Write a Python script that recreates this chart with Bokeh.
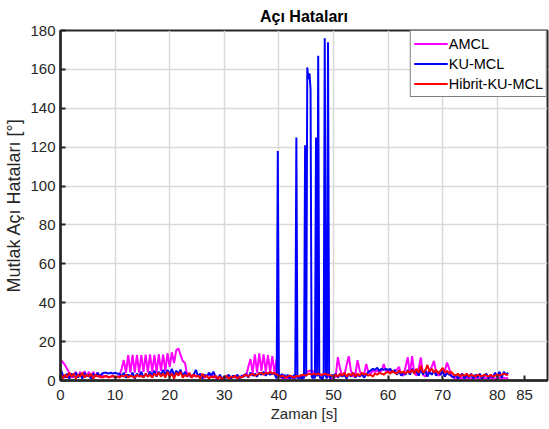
from bokeh.plotting import figure
from bokeh.models import FixedTicker, Range1d, Legend, LegendItem
from bokeh.embed import file_html
from bokeh.resources import INLINE

# time axis (s), shared by AMCL and Hibrit-KU-MCL
t = [
    0.0, 0.4, 0.8, 1.2, 1.6, 2.0, 2.4, 2.8, 3.2, 3.6,
    4.0, 4.4, 4.8, 5.2, 5.6, 6.0, 6.4, 6.8, 7.2, 7.6,
    8.0, 8.4, 8.8, 9.2, 9.6, 10.0, 10.4, 10.8, 11.2, 11.6,
    12.0, 12.4, 12.8, 13.2, 13.6, 14.0, 14.4, 14.8, 15.2, 15.6,
    16.0, 16.4, 16.8, 17.2, 17.6, 18.0, 18.4, 18.8, 19.2, 19.6,
    20.0, 20.4, 20.8, 21.2, 21.6, 22.0, 22.4, 22.8, 23.2, 23.6,
    24.0, 24.4, 24.8, 25.2, 25.6, 26.0, 26.4, 26.8, 27.2, 27.6,
    28.0, 28.4, 28.8, 29.2, 29.6, 30.0, 30.4, 30.8, 31.2, 31.6,
    32.0, 32.4, 32.8, 33.2, 33.6, 34.0, 34.4, 34.8, 35.2, 35.6,
    36.0, 36.4, 36.8, 37.2, 37.6, 38.0, 38.4, 38.8, 39.2, 39.6,
    40.0, 40.4, 40.8, 41.2, 41.6, 42.0, 42.4, 42.8, 43.2, 43.6,
    44.0, 44.4, 44.8, 45.2, 45.6, 46.0, 46.4, 46.8, 47.2, 47.6,
    48.0, 48.4, 48.8, 49.2, 49.6, 50.0, 50.4, 50.8, 51.2, 51.6,
    52.0, 52.4, 52.8, 53.2, 53.6, 54.0, 54.4, 54.8, 55.2, 55.6,
    56.0, 56.4, 56.8, 57.2, 57.6, 58.0, 58.4, 58.8, 59.2, 59.6,
    60.0, 60.4, 60.8, 61.2, 61.6, 62.0, 62.4, 62.8, 63.2, 63.6,
    64.0, 64.4, 64.8, 65.2, 65.6, 66.0, 66.4, 66.8, 67.2, 67.6,
    68.0, 68.4, 68.8, 69.2, 69.6, 70.0, 70.4, 70.8, 71.2, 71.6,
    72.0, 72.4, 72.8, 73.2, 73.6, 74.0, 74.4, 74.8, 75.2, 75.6,
    76.0, 76.4, 76.8, 77.2, 77.6, 78.0, 78.4, 78.8, 79.2, 79.6,
    80.0, 80.4, 80.8, 81.2, 81.6, 82.0,
]

amcl = [
    11, 9.5, 8, 6, 4, 1.5, 2, 4.5, 1.5, 4.5,
    1.5, 4.8, 2, 4.5, 1.5, 4.5, 2, 4.2, 1.5, 3,
    2, 2, 1.8, 2, 2, 1.8, 2, 2.5, 6, 10.5,
    4, 13, 4, 13.2, 4, 13.2, 4, 13, 4.5, 13.3,
    4, 13.5, 4.5, 13.2, 4, 13.5, 5, 13.3, 5, 14,
    7, 14.5, 9, 15.5, 16.5, 13, 10, 9, 3, 2.5,
    2.5, 3, 2, 2.5, 3, 2, 1.5, 2.5, 3, 2,
    2.5, 1.5, 0.5, 0, 1, 2, 1.5, 2.5, 1.5, 2,
    2, 2.5, 1.5, 2, 3, 2.5, 7, 11, 4, 13.5,
    4, 14, 5, 13.5, 4.5, 13, 4, 12.5, 4, 11,
    3, 1.5, 1, 1.5, 1, 1.5, 1.5, 1, 2, 1.5,
    2, 2.5, 3, 4.5, 5, 5, 4.5, 3.5, 3, 3,
    3, 3, 2.5, 2, 0.5, 1, 2, 12, 6, 2.5,
    3, 8, 12.5, 5, 2, 3, 10.5, 5, 2.5, 3,
    8.5, 4, 3.5, 5, 4.5, 5, 4.5, 5, 8.5, 5,
    4.5, 5, 4.5, 5, 5.5, 7, 3, 2.5, 7, 12,
    3, 12.5, 4, 2.5, 6, 11.8, 3, 2, 4, 5,
    7, 10, 4, 2.5, 3, 4, 5, 9.2, 6, 2,
    1.5, 1, 1.5, 1, 1.5, 1, 1.5, 1, 1, 1.5,
    1, 1.5, 1, 1, 1.5, 1, 1, 1.5, 1, 1,
    1, 1.5, 1, 1.5, 1, 1.5,
]

hibrit = [
    3.5, 1, 3, 1.5, 4, 2, 3.5, 1, 3, 2,
    4, 1.5, 3, 2, 3.5, 1, 3, 2, 2.5, 1.5,
    2, 2.5, 1.5, 2, 2.5, 1.5, 2, 1.5, 2.5, 2,
    3, 1.5, 2.5, 2, 1.5, 3, 2, 2.5, 1.5, 3.5,
    2, 3, 1.5, 3.5, 2.5, 4, 2, 3.5, 1.5, 4.5,
    2, 3.5, 1, 4, 2.5, 4.5, 1.5, 3, 2, 4,
    1.5, 3, 2, 2.5, 1, 3.5, 1.5, 2.5, 1, 2,
    1.5, 2.5, 1, 2, 0.5, 1.5, 2.5, 1, 2, 1.5,
    2.5, 1, 2, 1.5, 2.5, 3, 2, 3, 3.5, 2.5,
    3, 3.5, 4, 3, 4, 3.5, 4.5, 3.5, 4, 3,
    2.5, 2, 2.5, 1.5, 2, 2.5, 2, 1.5, 2.5, 2,
    2.5, 3, 2.5, 3, 3.5, 3, 3.5, 3, 3.5, 3,
    3, 3.5, 3, 3, 2.5, 2, 3, 2, 3.5, 2.5,
    4, 2, 3.5, 2.5, 4, 2, 3.5, 2.5, 4, 3,
    3.5, 2.5, 3, 2, 3.5, 3, 4, 3.5, 3, 4,
    4.5, 3.5, 5, 4, 3.5, 5, 4, 4.5, 3.5, 5,
    4, 5.5, 3.5, 6, 4, 7.5, 4, 5, 8, 4.5,
    6, 4, 5.5, 3.5, 5, 6.5, 4, 5, 3.5, 4.5,
    3, 2.5, 3.5, 2, 3, 2.5, 3.5, 2, 3, 2.5,
    2, 3, 2.5, 2, 3, 2.5, 2, 3, 2, 2.5,
    3, 2.5, 3, 3.5, 3, 3,
]

# KU-MCL uses a finer time step around the spikes (39.2 s - 50.0 s)
t_fine = [
    39.2, 39.4, 39.6, 39.8, 40.0, 40.2, 40.4, 40.6, 40.8, 41.0,
    41.2, 41.4, 41.6, 41.8, 42.0, 42.2, 42.4, 42.6, 42.8, 43.0,
    43.2, 43.4, 43.6, 43.8, 44.0, 44.2, 44.4, 44.6, 44.8, 45.0,
    45.2, 45.4, 45.6, 45.8, 46.0, 46.2, 46.4, 46.6, 46.8, 47.0,
    47.2, 47.4, 47.6, 47.8, 48.0, 48.2, 48.4, 48.6, 48.8, 49.0,
    49.2, 49.4, 49.6, 49.8, 50.0,
]
t_ku = t[:98] + t_fine + t[126:]

ku = [
    6, 3, 1.5, 3.5, 1, 3.5, 2, 4, 1.5, 3.5,
    1, 4, 2, 3, 1, 3.5, 2, 4, 2, 3.5,
    4, 4, 3.5, 4, 3.5, 4, 3.5, 3.5, 2, 4,
    1.5, 3, 2, 4, 1, 3.5, 2, 4.5, 1.5, 3.5,
    2, 4.5, 2.5, 5, 2, 4.5, 3, 5.5, 3, 5.5,
    3, 6, 2.5, 5, 3.5, 5.5, 2, 4.5, 2, 3.5,
    1.5, 3, 5.5, 2, 3.5, 1, 3, 2, 4, 2.5,
    4.5, 2, 1, 3, 0.5, 2, 1.5, 3, 1, 2.5,
    1.5, 3, 1, 2.5, 2, 3.5, 1.5, 4, 2.5, 3.5,
    2, 4, 3, 4.5, 2.5, 4, 3, 3.5,
    # fine section 39.2 - 50.0
    3.5, 2, 1, 118, 2, 3, 1.5, 3.5, 1, 3,
    2, 1.5, 3, 2, 1, 2.5, 2, 1, 3, 1,
    125, 1, 2, 1, 3, 0.5, 2, 1, 121, 2,
    161, 155, 158, 150, 2, 1, 3, 1, 125, 2,
    167, 3, 1, 2, 0.5, 3, 176, 2, 1, 174,
    3, 1, 2, 3, 2,
    # 50.4 - 82.0
    3.5, 1.5, 3, 2,
    3, 1, 3.5, 2, 4, 1.5, 3, 2, 3.5, 1.5,
    3, 4.5, 5, 6, 5.5, 6.5, 5, 6, 5.5, 6,
    5.5, 6, 4, 5.5, 3, 5, 2.5, 4, 3, 5.5,
    3, 6, 4, 5, 2.5, 6, 3, 5.5, 2, 4.5,
    3, 5, 2.5, 4.5, 3, 5, 2, 4, 3, 2.5,
    1.5, 3, 1, 2.5, 3.5, 1, 3, 1.5, 3.5, 1,
    3, 1.5, 3.5, 1, 2.5, 3.5, 1, 3, 1.5, 4,
    2, 4.5, 1.5, 4.5, 3, 4,
]

x_ticks = [0, 10, 20, 30, 40, 50, 60, 70, 80, 85]
x_grid = [0, 10, 20, 30, 40, 50, 60, 70, 80]
y_ticks = [0, 20, 40, 60, 80, 100, 120, 140, 160, 180]

series_names = ["AMCL", "KU-MCL", "Hibrit-KU-MCL"]
series_colors = ["#ff00ff", "#0000ff", "#ff0000"]

FONT = "Liberation Sans"
TXT = "#262626"

p = figure(width=549, height=429, output_backend="svg", toolbar_location=None,
           x_range=Range1d(0, 89.2), y_range=Range1d(0, 180),
           min_border_left=60, min_border_right=2, min_border_top=30, min_border_bottom=49)

p.title.text = "Açı Hataları"
p.title.align = "center"
p.title.text_font = FONT
p.title.text_font_size = "16px"
p.title.text_font_style = "bold"
p.title.text_color = "#000000"
p.title.offset = 0
p.title.standoff = 11

r1 = p.line(t, amcl, line_color=series_colors[0], line_width=2)
r2 = p.line(t_ku, ku, line_color=series_colors[1], line_width=2)
r3 = p.line(t, hibrit, line_color=series_colors[2], line_width=2)

for ax, ticks in ((p.xaxis[0], x_ticks), (p.yaxis[0], y_ticks)):
    ax.ticker = FixedTicker(ticks=ticks)
    ax.major_tick_in = 5
    ax.major_tick_out = 0
    ax.minor_tick_in = 0
    ax.minor_tick_out = 0
    ax.axis_line_width = 2.5
    ax.axis_line_color = "#262626"
    ax.major_tick_line_width = 2
    ax.major_tick_line_color = "#262626"
    ax.major_label_text_font = FONT
    ax.major_label_text_font_size = "15px"
    ax.major_label_text_color = TXT
    ax.axis_label_text_font = FONT
    ax.axis_label_text_font_style = "normal"
    ax.axis_label_text_color = TXT

p.xaxis[0].axis_label = "Zaman [s]"
p.yaxis[0].axis_label = "Mutlak Açı Hataları [°]"
p.xaxis[0].axis_label_text_font_size = "15px"
p.yaxis[0].axis_label_text_font_size = "18px"
p.xaxis[0].major_label_standoff = 9
p.yaxis[0].major_label_standoff = 5
p.xaxis[0].axis_label_standoff = 2
p.yaxis[0].axis_label_standoff = 3

p.xgrid.ticker = FixedTicker(ticks=x_grid)
p.ygrid.ticker = FixedTicker(ticks=y_ticks)
p.grid.grid_line_color = "#d9d9d9"
p.grid.grid_line_width = 1.5

p.outline_line_color = "#262626"
p.outline_line_width = 2
p.background_fill_color = "white"
p.border_fill_color = "white"

legend = Legend(items=[LegendItem(label=series_names[0], renderers=[r1]),
                       LegendItem(label=series_names[1], renderers=[r2]),
                       LegendItem(label=series_names[2], renderers=[r3])],
                location="top_right")
legend.label_text_font = FONT
legend.label_text_font_size = "14.5px"
legend.label_text_color = "#000000"
legend.glyph_width = 34
legend.glyph_height = 19
legend.label_height = 19
legend.label_standoff = 1
legend.spacing = 1
legend.padding = 3
legend.margin = 0
legend.border_line_color = "#000000"
legend.border_line_width = 1.5
legend.background_fill_alpha = 1
p.add_layout(legend)

open("out.html", "w").write(file_html(p, INLINE))
